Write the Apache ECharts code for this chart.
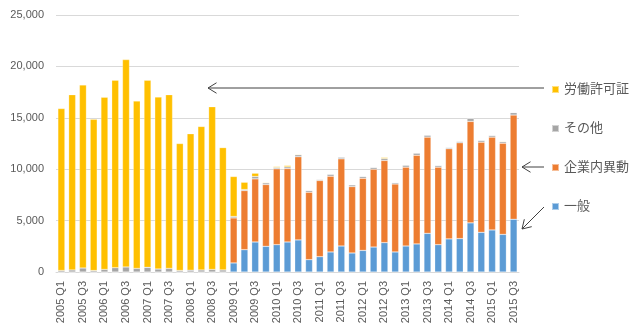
<!DOCTYPE html>
<html><head><meta charset="utf-8">
<script src="https://cdn.jsdelivr.net/npm/echarts@6/dist/echarts.min.js"></script>
<style>html,body{margin:0;padding:0;background:#fff}#c{width:637px;height:332px}</style>
</head><body><div id="c"></div>
<script>
const categories = [];
for (let y = 2005; y <= 2015; y++) for (let q = 1; q <= 4; q++) { if (y === 2015 && q > 3) break; categories.push(y + ' Q' + q); }

const ippan = [0,0,0,0,0,0,0,0,0,0,0,0,0,0,0,0,
  880,2170,2920,2500,2660,2920,3120,1200,1490,1950,2530,1850,2100,2430,2860,1950,
  2530,2730,3760,2660,3220,3250,4780,3860,4090,3660,5130];
const kigyonai = [0,0,0,0,0,0,0,0,0,0,0,0,0,0,0,0,
  4380,5750,6140,6010,7380,7150,8090,6560,7410,7370,8480,6460,7020,7570,7990,6610,
  7670,8630,9360,7540,8770,9320,9870,8770,9030,8870,10140];
const sonota = [150,200,390,140,250,420,490,350,450,290,350,150,180,200,250,200,
  140,100,230,160,130,160,190,160,100,190,160,170,170,170,190,130,
  190,200,190,160,120,130,290,170,160,140,230];
const rodokyoka = [15750,17050,17810,14710,16750,18230,20170,16280,18200,16730,16900,12350,13270,13960,15830,11900,
  3890,710,320,60,90,130,60,30,30,20,30,20,30,30,100,30,
  30,50,30,20,30,20,40,30,30,60,20];

const yTicks = [0, 5000, 10000, 15000, 20000, 25000];
const names = ['一般','企業内異動','その他','労働許可証'];
const colors = ['#5B9BD5','#ED7D31','#A5A5A5','#FFC000'];
const seriesData = [ippan, kigyonai, sonota, rodokyoka];

const font = '"Liberation Sans","Noto Sans CJK JP",sans-serif';
const chart = echarts.init(document.getElementById('c'), null, {renderer:'canvas'});

function arrow(x1,y1,x2,y2){
  const ang = Math.atan2(y1-y2, x1-x2);
  const L = 10, a = 0.55;
  const p1 = [x2 + L*Math.cos(ang+a), y2 + L*Math.sin(ang+a)];
  const p2 = [x2 + L*Math.cos(ang-a), y2 + L*Math.sin(ang-a)];
  return [
    {type:'line', shape:{x1:x1,y1:y1,x2:x2,y2:y2}, style:{stroke:'#404040', lineWidth:1}},
    {type:'polyline', shape:{points:[p1,[x2,y2],p2]}, style:{stroke:'#404040', lineWidth:1, fill:null}}
  ];
}

chart.setOption({
  animation:false,
  textStyle:{fontFamily:font},
  grid:{left:56, right:118, top:15, bottom:60, containLabel:false},
  legend:{
    data:['労働許可証','その他','企業内異動','一般'],
    orient:'vertical', left:546, top:78, itemGap:26,
    icon:'rect', itemWidth:7, itemHeight:7,
    textStyle:{fontSize:13, color:'#595959', fontFamily:font}
  },
  xAxis:{
    type:'category', data:categories,
    axisLine:{lineStyle:{color:'#D9D9D9'}},
    axisTick:{show:false},
    axisLabel:{rotate:90, interval:1, fontSize:11, color:'#595959', margin:9}
  },
  yAxis:{
    type:'value', min:0, max:25000, interval:5000,
    axisLine:{show:false}, axisTick:{show:false},
    splitLine:{lineStyle:{color:'#D9D9D9'}},
    axisLabel:{fontSize:11, color:'#595959', margin:12,
      formatter:v=>v.toLocaleString('en-US')}
  },
  series: names.map((n,i)=>({
    name:n, type:'bar', stack:'a', data:seriesData[i],
    barCategoryGap:'35%',
    itemStyle:{color:colors[i], borderColor:'rgba(255,255,255,0.5)', borderWidth:0.5}
  })),
  graphic:[
    ...arrow(544,88,208,88),
    ...arrow(544,167,522,167),
    ...arrow(544,207,522,229)
  ]
});
</script></body></html>
